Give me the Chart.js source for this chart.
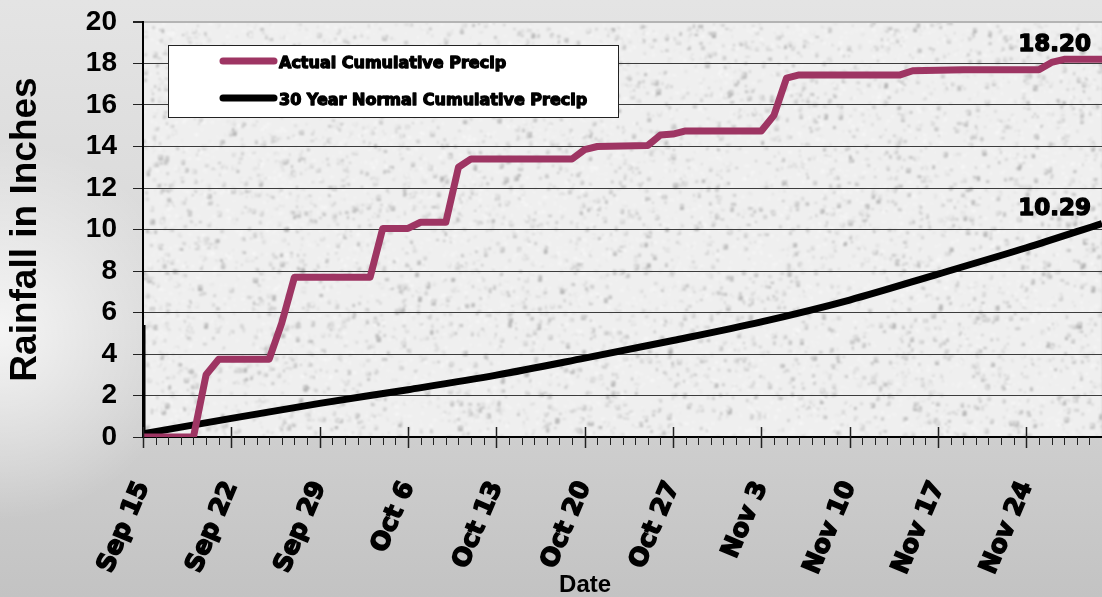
<!DOCTYPE html>
<html>
<head>
<meta charset="utf-8">
<title>Cumulative Precipitation</title>
<script src="https://cdn.jsdelivr.net/npm/chart.js@4.4.1/dist/chart.umd.min.js"></script>
<style>
  html, body { margin: 0; padding: 0; background: #d6d6d6; }
  #wrap { width: 1102px; height: 597px; }
  canvas { display: block; }
</style>
</head>
<body>
<div id="wrap"><canvas id="chart" width="1102" height="597"></canvas></div>
<script>
// Week labels along the date axis (one every 7 days starting Sep 15)
const weekLabels = ['Sep 15', 'Sep 22', 'Sep 29', 'Oct 6', 'Oct 13', 'Oct 20',
                    'Oct 27', 'Nov 3', 'Nov 10', 'Nov 17', 'Nov 24'];
const lastDay = 76; // Nov 30, days counted from Sep 15

// Actual cumulative precipitation (inches) at days where the total changes
const actualDays   = [0, 4, 5, 6, 10, 11, 12, 18, 19, 21, 22, 24, 25, 26, 34, 35, 36, 40, 41, 42, 43, 49, 50, 51, 52, 60, 61, 65, 71, 72, 73, 76];
const actualInches = [0, 0, 3.0, 3.75, 3.75, 5.5, 7.7, 7.7, 10.05, 10.05, 10.35, 10.35, 13.0, 13.4, 13.4, 13.85, 14.0, 14.05, 14.55, 14.6, 14.75, 14.75, 15.5, 17.3, 17.45, 17.45, 17.65, 17.7, 17.7, 18.05, 18.2, 18.2];

// 30 year normal cumulative precipitation (inches), weekly
const normalDays   = [0, 7, 14, 21, 28, 35, 42, 49, 56, 63, 70, 76];
const normalInches = [0.15, 0.9, 1.62, 2.28, 2.98, 3.8, 4.65, 5.55, 6.6, 7.85, 9.12, 10.29];
// opening segment of the normal series on the first day
const normalStartDays   = [0, 0];
const normalStartInches = [5.4, 0.15];

const seriesNames = ['Actual Cumulative Precip', '30 Year Normal Cumulative Precip'];
const seriesColors = ['#9e3563', '#000000'];
const yMin = 0, yMax = 20, yStep = 2;

const toPoints = (xs, ys) => xs.map((x, i) => ({ x: x, y: ys[i] }));

// Small deterministic generator for the speckled plot background
function makeGranite(w, h) {
  const base = document.createElement('canvas');
  base.width = w; base.height = h;
  const g = base.getContext('2d');
  g.fillStyle = '#efefef';
  g.fillRect(0, 0, w, h);
  let s = 1234567;
  const next = () => { s = (s * 1103515245 + 12345) & 0x7fffffff; return s / 0x7fffffff; };
  const n = Math.floor(w * h / 4);
  for (let i = 0; i < n; i++) {
    const x = next() * w, y = next() * h;
    const v = Math.floor(175 + next() * 55);
    g.fillStyle = 'rgba(' + v + ',' + v + ',' + v + ',' + (0.12 + next() * 0.25).toFixed(2) + ')';
    const sz = 1 + next() * 3;
    g.fillRect(x, y, sz, sz * (0.5 + next()));
  }
  for (let i = 0; i < n / 5; i++) {
    const x = next() * w, y = next() * h;
    g.fillStyle = 'rgba(250,250,250,' + (0.25 + next() * 0.3).toFixed(2) + ')';
    g.fillRect(x, y, 1 + next() * 3, 1 + next() * 2);
  }
  const out = document.createElement('canvas');
  out.width = w; out.height = h;
  const o = out.getContext('2d');
  o.filter = 'blur(0.8px)';
  o.drawImage(base, 0, 0);
  return out;
}

const backdrop = {
  id: 'backdrop',
  beforeDraw(chart) {
    const { ctx, width, height, chartArea: a } = chart;
    ctx.save();
    const lg = ctx.createLinearGradient(0, 0, 0, height);
    lg.addColorStop(0, '#e4e4e4');
    lg.addColorStop(0.55, '#d6d6d6');
    lg.addColorStop(1, '#c3c3c3');
    ctx.fillStyle = lg;
    ctx.fillRect(0, 0, width, height);
    const rg = ctx.createRadialGradient(0, 330, 0, 0, 330, 190);
    rg.addColorStop(0, 'rgba(255,255,255,0.75)');
    rg.addColorStop(1, 'rgba(255,255,255,0)');
    ctx.fillStyle = rg;
    ctx.fillRect(0, 0, width, height);
    const w = Math.ceil(a.right - a.left), h = Math.ceil(a.bottom - a.top);
    if (!chart.$granite || chart.$granite.width !== w || chart.$granite.height !== h) {
      chart.$granite = makeGranite(w, h);
    }
    ctx.drawImage(chart.$granite, a.left, a.top);
    ctx.restore();
  }
};

function heavyText(ctx, text, x, y, strokeW) {
  ctx.lineJoin = 'round';
  ctx.lineWidth = strokeW;
  ctx.strokeStyle = ctx.fillStyle;
  ctx.strokeText(text, x, y);
  ctx.fillText(text, x, y);
}

const legendBox = {
  id: 'legendBox',
  beforeDatasetsDraw(chart) {
    const { ctx, chartArea: a } = chart;
    const x0 = a.left + 25, y0 = a.top + 23, w = 450, h = 72;
    ctx.save();
    ctx.fillStyle = '#ffffff';
    ctx.fillRect(x0, y0, w, h);
    ctx.strokeStyle = '#222';
    ctx.lineWidth = 1;
    ctx.strokeRect(x0 + 0.5, y0 + 0.5, w, h);
    const rows = [y0 + 16, y0 + 53];
    chart.data.datasets.forEach((ds, i) => {
      if (!ds.label) return;
      const ly = rows[i];
      ctx.strokeStyle = ds.borderColor;
      ctx.lineWidth = 7;
      ctx.lineCap = 'round';
      ctx.beginPath();
      ctx.moveTo(x0 + 55, ly);
      ctx.lineTo(x0 + 106, ly);
      ctx.stroke();
      ctx.fillStyle = '#000';
      ctx.font = 'bold 16px "DejaVu Sans"';
      ctx.textAlign = 'left';
      ctx.textBaseline = 'middle';
      heavyText(ctx, ds.label, x0 + 111, ly + 3, 1.3);
    });
    ctx.restore();
  }
};

const extras = {
  id: 'extras',
  afterDraw(chart) {
    const { ctx, chartArea: a } = chart;
    const xs = chart.scales.x;
    ctx.save();
    // day ticks along the date axis, longer ones at each week
    ctx.strokeStyle = '#222';
    for (let d = 0; d <= lastDay; d++) {
      const px = Math.round(xs.getPixelForValue(d)) + 0.5;
      const major = d % 7 === 0;
      ctx.lineWidth = major ? 1.5 : 1;
      ctx.beginPath();
      ctx.moveTo(px, major ? a.bottom - 10 : a.bottom);
      ctx.lineTo(px, a.bottom + (major ? 11 : 8));
      ctx.stroke();
    }
    // end-of-period totals
    ctx.fillStyle = '#000';
    ctx.font = 'bold 23px "DejaVu Sans"';
    ctx.textAlign = 'right';
    ctx.textBaseline = 'alphabetic';
    chart.data.datasets.forEach((ds, i) => {
      if (!ds.label) return;
      const meta = chart.getDatasetMeta(i);
      const last = ds.data[ds.data.length - 1];
      const pt = meta.data[meta.data.length - 1];
      heavyText(ctx, last.y.toFixed(2), pt.x - 11, pt.y - 8, 1.4);
    });
    // axis title
    ctx.font = 'bold 24px "Liberation Sans"';
    ctx.textAlign = 'center';
    ctx.fillText('Date', a.left + (a.right - a.left) * 0.461, chart.height - 5);
    ctx.restore();
  }
};

new Chart(document.getElementById('chart'), {
  type: 'line',
  data: {
    datasets: [
      {
        label: seriesNames[0],
        data: toPoints(actualDays, actualInches),
        borderColor: seriesColors[0],
        borderWidth: 7,
        pointRadius: 0,
        tension: 0,
        borderJoinStyle: 'round',
        borderCapStyle: 'round'
      },
      {
        label: seriesNames[1],
        data: toPoints(normalDays, normalInches),
        borderColor: seriesColors[1],
        borderWidth: 7,
        pointRadius: 0,
        cubicInterpolationMode: 'monotone',
        borderJoinStyle: 'round'
      },
      {
        label: '',
        data: toPoints(normalStartDays, normalStartInches),
        borderColor: seriesColors[1],
        borderWidth: 5,
        pointRadius: 0,
        tension: 0
      }
    ]
  },
  options: {
    responsive: false,
    animation: false,
    devicePixelRatio: 1,
    layout: { padding: { top: 22, right: 0, left: 0, bottom: 0 } },
    plugins: { legend: { display: false }, tooltip: { enabled: false } },
    scales: {
      x: {
        type: 'linear',
        min: 0,
        max: lastDay,
        afterFit(scale) { scale.height = 160; scale.paddingLeft = 0; scale.paddingRight = 0; },
        grid: { display: true, drawOnChartArea: false, drawTicks: false },
        border: { display: true, color: '#000', width: 2 },
        ticks: {
          stepSize: 1,
          autoSkip: false,
          maxRotation: 67,
          minRotation: 67,
          padding: 40,
          color: '#000',
          textStrokeColor: '#000',
          textStrokeWidth: 1.5,
          font: { family: 'DejaVu Sans', weight: 'bold', size: 25 },
          callback: (v) => (v % 7 === 0 ? weekLabels[v / 7] : '')
        },
        title: { display: false }
      },
      y: {
        min: yMin,
        max: yMax,
        afterFit(scale) { scale.width = 143; scale.paddingTop = 0; scale.paddingBottom = 0; },
        grid: {
          color: (c) => (c.tick && c.tick.value === yMax ? '#b4b4b4' : '#3c3c3c'),
          lineWidth: (c) => (c.tick && c.tick.value === yMax ? 2 : 1),
          tickColor: '#222',
          tickLength: 10
        },
        border: { display: true, color: '#000', width: 2 },
        ticks: {
          stepSize: yStep,
          padding: 16,
          color: '#000',
          font: { family: 'Liberation Sans', weight: 'bold', size: 28 }
        },
        title: {
          display: true,
          text: 'Rainfall in Inches',
          color: '#000',
          font: { family: 'Liberation Sans', weight: 'bold', size: 37 },
          padding: { top: 4, bottom: 0 }
        }
      }
    }
  },
  plugins: [backdrop, legendBox, extras]
});
</script>
</body>
</html>
